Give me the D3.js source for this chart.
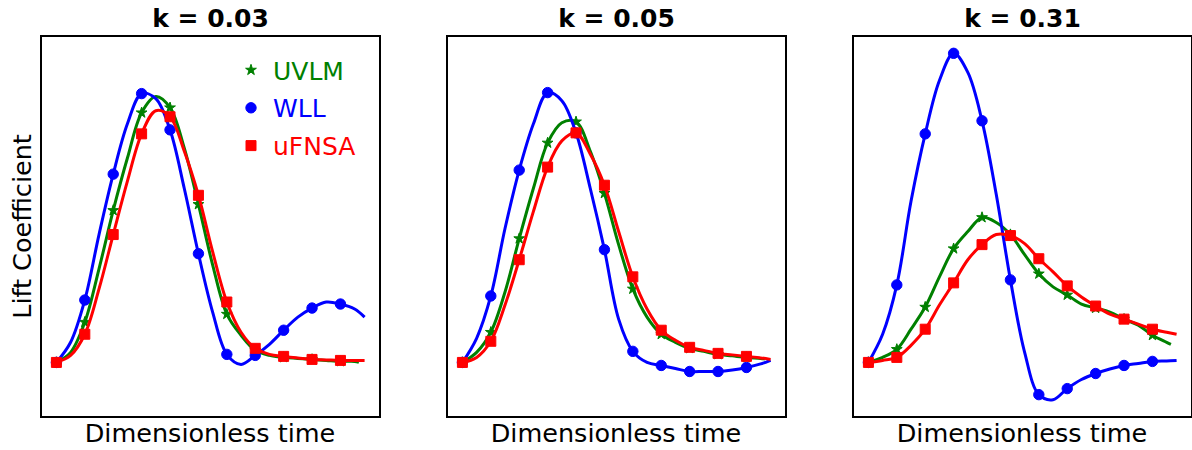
<!DOCTYPE html>
<html>
<head>
<meta charset="utf-8">
<script src="https://cdn.jsdelivr.net/npm/d3@7"></script>
<style>
body { margin: 0; background: #fff; }
text { font-family: "DejaVu Sans", sans-serif; }
</style>
</head>
<body>
<div id="chart"></div>
<script>
// sample times, markers sit on the whole numbers 0..10
var tGrid = [0, 0.5, 1, 1.5, 2, 2.5, 3, 3.5, 4, 4.5, 5, 5.5, 6, 6.5, 7, 7.5, 8, 8.5, 9, 9.5, 10, 10.5];
// last sample of each run (UVLM stops a bit earlier)
var tEnd = {UVLM: 10.65, WLL: 10.85, uFNSA: 10.85};

var kLabels = ['k = 0.03', 'k = 0.05', 'k = 0.31'];
var seriesNames = ['UVLM', 'WLL', 'uFNSA'];
var seriesColors = ['#008000', '#0000ff', '#ff0000'];

// lift coefficient (arbitrary units)
var uvlm003  = [0, 0.10, 0.40, 0.93, 1.51, 2.03, 2.48, 2.64, 2.53, 2.13, 1.57, 0.97, 0.48, 0.27, 0.12, 0.07, 0.05, 0.04, 0.03, 0.02, 0.01, 0.01, 0.00];
var wll003   = [0, 0.20, 0.62, 1.27, 1.87, 2.37, 2.67, 2.62, 2.31, 1.73, 1.08, 0.50, 0.08, -0.02, 0.07, 0.18, 0.32, 0.45, 0.54, 0.60, 0.58, 0.53, 0.45];
var ufnsa003 = [0, 0.07, 0.28, 0.73, 1.27, 1.80, 2.27, 2.50, 2.44, 2.10, 1.66, 1.10, 0.60, 0.30, 0.14, 0.08, 0.06, 0.045, 0.03, 0.025, 0.02, 0.02, 0.02];

var uvlm005  = [0, 0.10, 0.30, 0.70, 1.23, 1.73, 2.18, 2.38, 2.39, 2.10, 1.68, 1.17, 0.73, 0.45, 0.28, 0.20, 0.14, 0.11, 0.08, 0.065, 0.05, 0.04, 0.035];
var wll005   = [0, 0.24, 0.66, 1.33, 1.91, 2.37, 2.68, 2.60, 2.28, 1.73, 1.12, 0.43, 0.11, 0.00, -0.03, -0.06, -0.09, -0.09, -0.09, -0.075, -0.05, -0.015, 0.02];
var ufnsa005 = [0, 0.05, 0.21, 0.57, 1.02, 1.50, 1.94, 2.20, 2.28, 2.07, 1.76, 1.30, 0.85, 0.53, 0.32, 0.22, 0.15, 0.12, 0.09, 0.075, 0.06, 0.045, 0.03];

var uvlm031  = [0, 0.05, 0.13, 0.33, 0.55, 0.85, 1.13, 1.30, 1.44, 1.39, 1.27, 1.07, 0.88, 0.75, 0.67, 0.58, 0.54, 0.50, 0.43, 0.37, 0.27, 0.20, 0.18];
var wll031   = [0, 0.28, 0.77, 1.60, 2.27, 2.80, 3.07, 2.88, 2.40, 1.67, 0.82, 0.10, -0.32, -0.37, -0.26, -0.17, -0.11, -0.065, -0.03, -0.01, 0.01, 0.015, 0.02];
var ufnsa031 = [0, 0.02, 0.05, 0.17, 0.33, 0.57, 0.79, 1.02, 1.17, 1.27, 1.26, 1.18, 1.03, 0.90, 0.76, 0.65, 0.56, 0.48, 0.43, 0.38, 0.33, 0.30, 0.28];

var panels = [
    {title: kLabels[0], UVLM: uvlm003, WLL: wll003, uFNSA: ufnsa003},
    {title: kLabels[1], UVLM: uvlm005, WLL: wll005, uFNSA: ufnsa005},
    {title: kLabels[2], UVLM: uvlm031, WLL: wll031, uFNSA: ufnsa031}
];

var width = 1192, height = 450;
var boxLefts = [41, 447, 853], boxW = 339;
var plotTop = 36, plotBottom = 417;

var svg = d3.select('#chart')
    .append('svg')
    .attr('width', width)
    .attr('height', height);

// shared y, padded 5% like matplotlib
var allVals = [];
panels.forEach(function(p) { seriesNames.forEach(function(s) { allVals = allVals.concat(p[s]); }); });
var yMin = d3.min(allVals), yMax = d3.max(allVals);
var yPad = (yMax - yMin) * 0.05;
var y = d3.scaleLinear()
    .domain([yMin - yPad, yMax + yPad])
    .range([plotBottom, plotTop]);

var tMax = d3.max(seriesNames, function(s) { return tEnd[s]; });
var xPad = tMax * 0.05;

var symbols = {
    UVLM: d3.symbol().type(d3.symbolStar).size(36),
    WLL: d3.symbol().type(d3.symbolCircle).size(85),
    uFNSA: d3.symbol().type(d3.symbolSquare).size(100)
};

function toPoints(name, vals) {
    return vals.map(function(v, i) {
        return {t: i < tGrid.length ? tGrid[i] : tEnd[name], v: v};
    });
}

panels.forEach(function(p, pi) {
    var left = boxLefts[pi];
    var x = d3.scaleLinear()
        .domain([-xPad, tMax + xPad])
        .range([left, left + boxW]);

    var line = d3.line()
        .x(function(d) { return x(d.t); })
        .y(function(d) { return y(d.v); })
        .curve(d3.curveCatmullRom.alpha(0.5));

    var g = svg.append('g');

    seriesNames.forEach(function(name, si) {
        var pts = toPoints(name, p[name]);
        g.append('path')
            .datum(pts)
            .attr('d', line)
            .attr('fill', 'none')
            .attr('stroke', seriesColors[si])
            .attr('stroke-width', 3)
            .attr('stroke-linejoin', 'round');

        // marker edge is the same colour, as in matplotlib
        g.selectAll('.m' + si)
            .data(pts.filter(function(d) { return Number.isInteger(d.t) && d.t <= 10; }))
            .enter().append('path')
            .attr('class', 'm' + si)
            .attr('d', symbols[name])
            .attr('transform', function(d) { return 'translate(' + x(d.t) + ',' + y(d.v) + ')'; })
            .attr('fill', seriesColors[si])
            .attr('stroke', seriesColors[si])
            .attr('stroke-width', 1);
    });

    // frame
    svg.append('rect')
        .attr('x', left)
        .attr('y', plotTop)
        .attr('width', boxW)
        .attr('height', plotBottom - plotTop)
        .attr('fill', 'none')
        .attr('stroke', '#000')
        .attr('stroke-width', 2);

    svg.append('text')
        .attr('x', left + boxW / 2)
        .attr('y', 27)
        .attr('text-anchor', 'middle')
        .attr('font-size', 25)
        .attr('font-weight', 'bold')
        .text(p.title);

    svg.append('text')
        .attr('x', left + boxW / 2 - 0.5)
        .attr('y', 442)
        .attr('text-anchor', 'middle')
        .attr('font-size', 25.5)
        .text('Dimensionless time');
});

svg.append('text')
    .attr('transform', 'translate(31,' + ((plotTop + plotBottom) / 2) + ') rotate(-90)')
    .attr('text-anchor', 'middle')
    .attr('font-size', 25.5)
    .text('Lift Coefficient');

// legend, first panel
var legend = svg.append('g');
seriesNames.forEach(function(name, si) {
    var ly = 70 + si * 37.8;
    legend.append('path')
        .attr('d', symbols[name])
        .attr('transform', 'translate(251,' + ly + ')')
        .attr('fill', seriesColors[si])
        .attr('stroke', seriesColors[si])
        .attr('stroke-width', 1);
    legend.append('text')
        .attr('x', 273)
        .attr('y', ly + 9.5)
        .attr('font-size', 25)
        .attr('fill', seriesColors[si])
        .text(name);
});
</script>
</body>
</html>
